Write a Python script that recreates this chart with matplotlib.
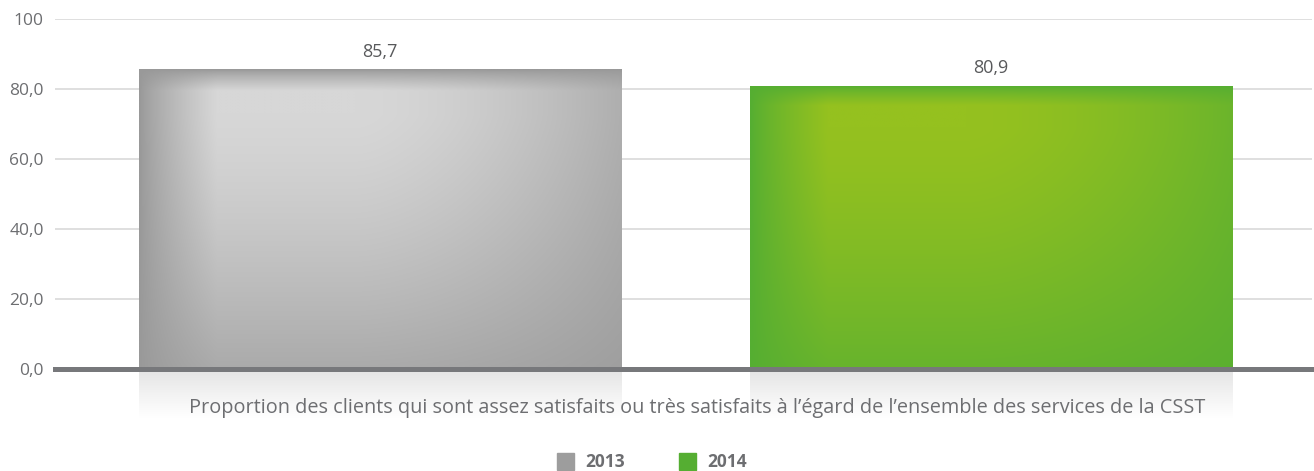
import numpy as np
import matplotlib
matplotlib.use("Agg")
import matplotlib.pyplot as plt
from matplotlib.patches import Rectangle
from matplotlib.colors import to_rgb

# ---- data ----
series = ["2013", "2014"]
values = [85.7, 80.9]
value_labels = ["85,7", "80,9"]
category = "Proportion des clients qui sont assez satisfaits ou très satisfaits à l’égard de l’ensemble des services de la CSST"
yticks = [0, 20, 40, 60, 80, 100]
ytick_labels = ["0,0", "20,0", "40,0", "60,0", "80,0", "100"]

edge_colors = ["#999999", "#55ae32"]
center_colors = ["#d7d7d7", "#95c11f"]
legend_colors = ["#9d9d9d", "#55ae32"]

plt.rcParams['font.family'] = ['Open Sans', 'DejaVu Sans']
text_color = "#6d6e71"

W, H = 1314, 471
fig = plt.figure(figsize=(W / 100, H / 100), dpi=100)
ax = fig.add_axes([55 / W, 102 / H, (1312 - 55) / W, 350 / H])

positions = np.arange(len(values))
bar_w = 0.79


def gradient_img(edge, center, n=200):
    u = np.linspace(0, 1, n)[None, :]
    v = np.linspace(0, 1, n)[:, None]
    gx = np.clip(u / 0.16, 0, 1) ** 0.8 * (1 - 0.65 * np.clip((u - 0.45) / 0.55, 0, 1) ** 1.6)
    gy = np.clip(v / 0.07, 0, 1) ** 0.8 * (1 - 0.72 * np.clip((v - 0.15) / 0.85, 0, 1) ** 1.3)
    t = (gx * gy)[..., None]
    e = np.array(to_rgb(edge))
    c = np.array(to_rgb(center))
    return e + (c - e) * t


bars = ax.bar(positions, values, width=bar_w, color="none", zorder=2)
for i, b in enumerate(bars):
    x0 = b.get_x()
    x1 = x0 + b.get_width()
    h = b.get_height()
    img = gradient_img(edge_colors[i], center_colors[i])
    im = ax.imshow(img, extent=[x0, x1, 0, h], origin="upper", aspect="auto",
                   interpolation="bilinear", zorder=2)
    im.set_clip_path(b)
    # reflection below baseline
    refl_h = 14
    r = np.linspace(0, 1, 100)[:, None, None]
    top = np.array(to_rgb("#e3e3e3"))
    wht = np.array([1.0, 1.0, 1.0])
    refl = top + (wht - top) * (r ** 0.9)
    refl = np.repeat(refl, 2, axis=1)
    ax.imshow(refl, extent=[x0, x1, -refl_h, 0], origin="upper", aspect="auto",
              interpolation="bilinear", zorder=1, clip_on=False)
    ax.text(positions[i], h + 5.0, value_labels[i], ha="center", va="center",
            fontsize=13, color="#58595b")

ax.set_xlim(-0.532, 1.525)
ax.set_ylim(0, 100)

for yv in yticks[1:]:
    ax.axhline(yv, color="#dcdcdc", lw=1.3, zorder=0)
ax.axhline(0, color="#77787b", lw=3.6, zorder=4, clip_on=False)

for s in ax.spines.values():
    s.set_visible(False)
ax.set_xticks([])
ax.set_yticks(yticks)
ax.set_yticklabels(ytick_labels)
ax.tick_params(axis="y", length=0, pad=8, labelsize=12.5, labelcolor=text_color)

fig.text(697 / W, 1 - 408 / H, category, ha="center", va="center",
         fontsize=14.3, color=text_color)

# legend
leg_x = [557, 679]
for i, name in enumerate(series):
    fig.patches.append(Rectangle((leg_x[i] / W, 1 - 470 / H), 17 / W, 17 / H,
                                 transform=fig.transFigure, color=legend_colors[i]))
    fig.text((leg_x[i] + 28) / W, 1 - 462 / H, name, ha="left", va="center",
             fontsize=12.5, color=text_color, fontweight="bold")

fig.savefig("out.png", dpi=100)
